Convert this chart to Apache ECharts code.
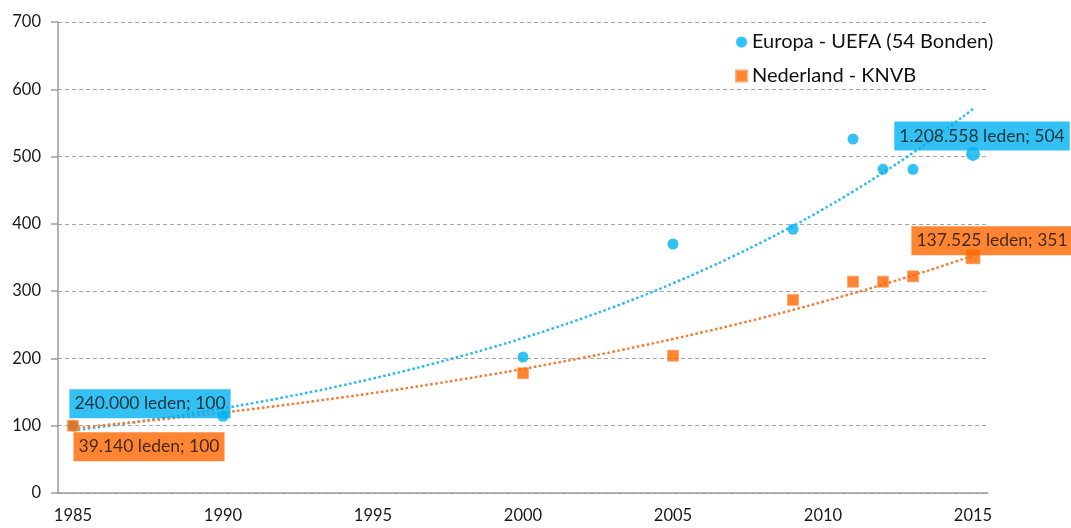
<!DOCTYPE html>
<html>
<head>
<meta charset="utf-8">
<script src="https://cdn.jsdelivr.net/npm/echarts@6/dist/echarts.min.js"></script>
<style>
  html, body { margin: 0; padding: 0; background: #fff; }
  #chart { width: 1071px; height: 528px; }
</style>
</head>
<body>
<div id="chart"></div>
<script>
// x categories: every year on the axis
const years = []
for (let y = 1985; y <= 2015; y++) years.push(String(y))

const europaYears = ["1985", "1990", "2000", "2005", "2009", "2011", "2012", "2013", "2015"]
const europaValues = [100, 114, 202, 370, 392, 526, 481, 481, 504]
const europaMembers = { "1985": "240.000", "2015": "1.208.558" }

const nederlandYears = ["1985", "2000", "2005", "2009", "2011", "2012", "2013", "2015"]
const nederlandValues = [100, 178, 204, 287, 314, 314, 322, 351]
const nederlandMembers = { "1985": "39.140", "2015": "137.525" }

const yTicks = [0, 100, 200, 300, 400, 500, 600, 700]

const BLUE = "#00B0F0"
const ORANGE = "#FF6600"
const FONT = "Lato"

// exponential trendline (least squares on ln y), like the spreadsheet one
function expTrend(xs, ys) {
    const px = xs.map(x => Number(x) - 1985)
    const ly = ys.map(v => Math.log(v))
    const n = px.length
    const mx = px.reduce((a, b) => a + b, 0) / n
    const my = ly.reduce((a, b) => a + b, 0) / n
    let sxy = 0, sxx = 0
    for (let i = 0; i < n; i++) {
        sxy += (px[i] - mx) * (ly[i] - my)
        sxx += (px[i] - mx) * (px[i] - mx)
    }
    const b = sxy / sxx
    const a = Math.exp(my - b * mx)
    return years.map(y => [y, a * Math.exp(b * (Number(y) - 1985))])
}

const labelOffsets = {
    europa: { "1985": [77, -22], "2015": [9, -18] },
    nederland: { "1985": [76, 21], "2015": [19, -16] }
}

function points(xs, vs, members, offsets, color, big) {
    return xs.map((x, i) => {
        const item = { value: [x, vs[i]] }
        if (x === "2015") item.symbolSize = big
        if (members[x]) {
            item.label = {
                show: true,
                position: "inside",
                offset: offsets[x],
                formatter: members[x] + " leden; " + vs[i],
                backgroundColor: color,
                color: "#111",
                fontFamily: FONT,
                fontSize: 17.5,
                padding: [6, 5, 5, 5]
            }
        }
        return item
    })
}

const chart = echarts.init(document.getElementById("chart"), null, { renderer: "canvas" })

chart.setOption({
    animation: false,
    grid: { left: 58, right: 83, top: 22, bottom: 35, containLabel: false },
    legend: {
        orient: "vertical",
        left: 730,
        top: 27,
        itemGap: 14,
        itemWidth: 11,
        itemHeight: 11,
        textStyle: { fontFamily: FONT, fontSize: 20, color: "#111" },
        data: [
            { name: "Europa - UEFA (54 Bonden)", icon: "circle" },
            { name: "Nederland - KNVB", icon: "rect" }
        ]
    },
    xAxis: {
        type: "category",
        data: years,
        boundaryGap: true,
        axisLine: { lineStyle: { color: "#9a9a9a", width: 1.5 } },
        axisTick: { interval: 0, length: 8, lineStyle: { color: "#9a9a9a", width: 1.5 } },
        axisLabel: {
            interval: 4,
            margin: 14,
            color: "#1a1a1a",
            fontFamily: FONT,
            fontSize: 16.5
        },
        splitLine: { show: false }
    },
    yAxis: {
        type: "value",
        min: yTicks[0],
        max: yTicks[yTicks.length - 1],
        interval: 100,
        axisLine: { show: true, lineStyle: { color: "#9a9a9a", width: 1.5 } },
        axisTick: { show: true, length: 7, lineStyle: { color: "#9a9a9a", width: 1.5 } },
        axisLabel: { margin: 17, color: "#1a1a1a", fontFamily: FONT, fontSize: 16.5 },
        splitLine: { lineStyle: { color: "#a6a6a6", type: [4, 3], width: 1.2 } }
    },
    series: [
        {
            name: "trend-europa",
            type: "line",
            data: expTrend(europaYears, europaValues),
            showSymbol: false,
            smooth: true,
            silent: true,
            z: 1,
            lineStyle: { color: "#2CB9EE", width: 2.5, type: [2.5, 2.5] }
        },
        {
            name: "trend-nederland",
            type: "line",
            data: expTrend(nederlandYears, nederlandValues),
            showSymbol: false,
            smooth: true,
            silent: true,
            z: 1,
            lineStyle: { color: "#F47B35", width: 2.5, type: [2.5, 2.5] }
        },
        {
            name: "Europa - UEFA (54 Bonden)",
            type: "scatter",
            symbol: "circle",
            symbolSize: 11,
            z: 3,
            itemStyle: { color: BLUE },
            data: points(europaYears, europaValues, europaMembers, labelOffsets.europa, BLUE, 14)
        },
        {
            name: "Nederland - KNVB",
            type: "scatter",
            symbol: "rect",
            symbolSize: 11,
            z: 4,
            itemStyle: { color: ORANGE, borderColor: "#FF9A5C", borderWidth: 0.8 },
            data: points(nederlandYears, nederlandValues, nederlandMembers, labelOffsets.nederland, ORANGE, 14)
        }
    ]
})
</script>
</body>
</html>
